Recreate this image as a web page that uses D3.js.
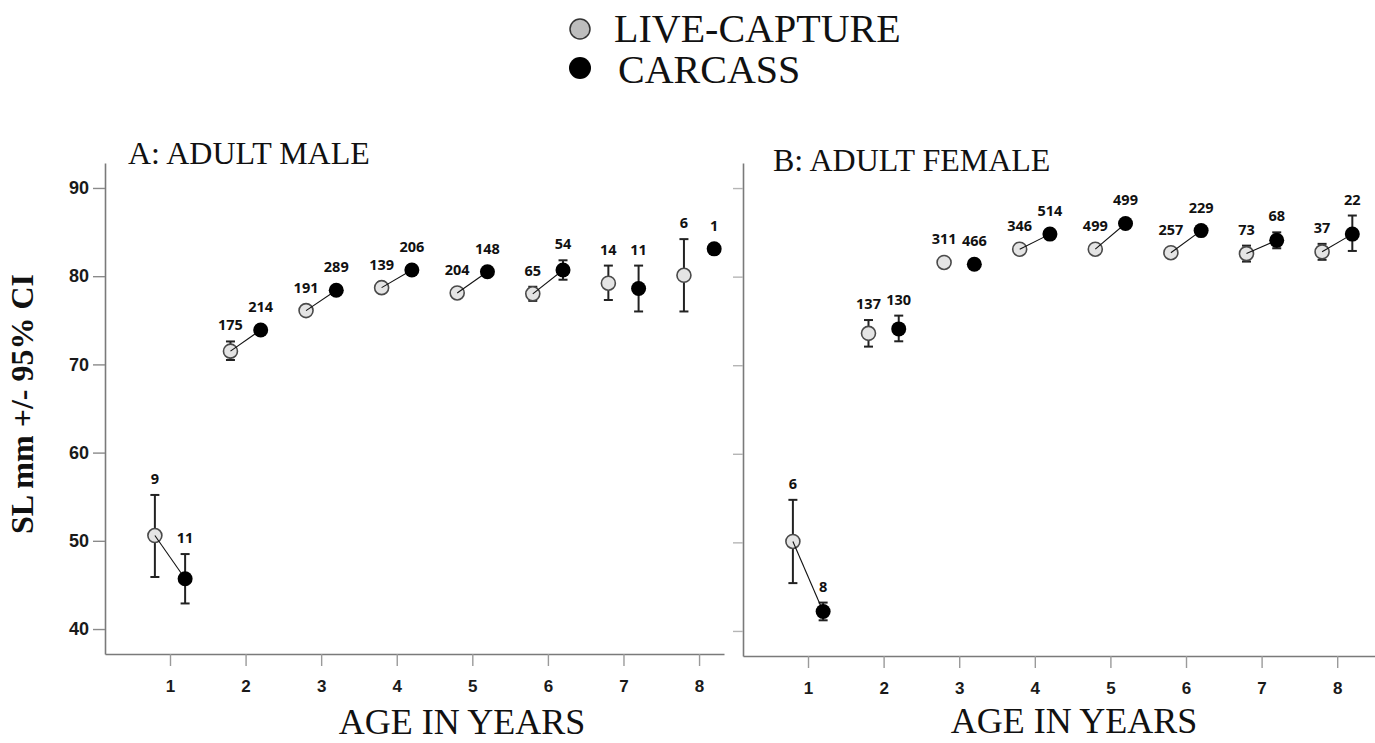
<!DOCTYPE html>
<html>
<head>
<meta charset="utf-8">
<script src="https://cdn.jsdelivr.net/npm/d3@7"></script>
<style>
  html, body { margin: 0; padding: 0; background: #fff; }
  svg { display: block; }
</style>
</head>
<body>
<svg id="chart" width="1375" height="743"></svg>
<script>
// ---------- DATA ----------
const ages = [1, 2, 3, 4, 5, 6, 7, 8];
const tickValuesY = [40, 50, 60, 70, 80, 90];

// Panel A: adult male
const maleLiveMean = [50.6, 71.5, 76.1, 78.7, 78.1, 78.0, 79.2, 80.1];
const maleLiveLo   = [45.9, 70.5, 75.6, 78.1, 77.6, 77.2, 77.3, 76.0];
const maleLiveHi   = [55.2, 72.6, 76.6, 79.3, 78.6, 78.8, 81.2, 84.2];
const maleLiveN    = [9, 175, 191, 139, 204, 65, 14, 6];
const maleCarcMean = [45.7, 73.9, 78.4, 80.7, 80.5, 80.7, 78.6, 83.1];
const maleCarcLo   = [42.9, 73.4, 78.0, 80.2, 80.0, 79.6, 76.0, null];
const maleCarcHi   = [48.5, 74.4, 78.8, 81.2, 81.0, 81.8, 81.2, null];
const maleCarcN    = [11, 214, 289, 206, 148, 54, 11, 1];
const maleLinked   = [true, true, true, true, true, true, false, false];

// Panel B: adult female
const femLiveMean = [50.1, 73.6, 81.6, 83.1, 83.1, 82.7, 82.6, 82.8];
const femLiveLo   = [45.4, 72.1, 81.3, 82.7, 82.7, 82.2, 81.7, 81.9];
const femLiveHi   = [54.8, 75.1, 81.9, 83.5, 83.5, 83.2, 83.5, 83.7];
const femLiveN    = [6, 137, 311, 346, 499, 257, 73, 37];
const femCarcMean = [42.2, 74.1, 81.4, 84.8, 86.0, 85.2, 84.1, 84.8];
const femCarcLo   = [41.2, 72.7, 81.0, 84.4, 85.6, 84.7, 83.2, 82.9];
const femCarcHi   = [43.2, 75.6, 81.8, 85.2, 86.4, 85.7, 85.0, 86.9];
const femCarcN    = [8, 130, 466, 514, 499, 229, 68, 22];
const femLinked   = [true, false, false, true, true, true, true, true];

const seriesNames = ["LIVE-CAPTURE", "CARCASS"];
const panelTitles = ["A: ADULT MALE", "B: ADULT FEMALE"];
const yTitle = "SL mm +/- 95% CI";
const xTitle = "AGE IN YEARS";

// ---------- STYLE ----------
const liveFill = "#e4e4e4", liveStroke = "#4a4a4a", carcFill = "#000";
const serif = "'Liberation Serif', 'Times New Roman', serif";
const sans = "'Liberation Sans', Arial, sans-serif";
const labelFont = "'Open Sans', 'Liberation Sans', sans-serif";
const R = 7;
const offset = 0.2;

const svg = d3.select("#chart");

// ---------- LEGEND ----------
const legend = svg.append("g");
legend.append("circle").attr("cx", 580).attr("cy", 29).attr("r", 10)
  .attr("fill", "#bdbdbd").attr("stroke", "#333").attr("stroke-width", 1.5);
legend.append("circle").attr("cx", 580).attr("cy", 68).attr("r", 11).attr("fill", "#000");
legend.append("text").attr("x", 614).attr("y", 42).text(seriesNames[0])
  .style("font-family", serif).style("font-size", "40px").attr("fill", "#111");
legend.append("text").attr("x", 618).attr("y", 83).text(seriesNames[1])
  .style("font-family", serif).style("font-size", "40px").attr("fill", "#111");

// ---------- Y TITLE ----------
svg.append("text")
  .attr("transform", "translate(33,404) rotate(-90)")
  .attr("text-anchor", "middle")
  .style("font-family", serif).style("font-size", "32px").style("font-weight", "bold")
  .attr("fill", "#111")
  .text(yTitle);

function buildPanel(cfg) {
  const x = d3.scaleLinear().domain(cfg.xDomain).range(cfg.xRange);
  const y = d3.scaleLinear().domain([37.17, 92.83]).range(cfg.yRange);
  const g = svg.append("g");

  // axes
  const yAxis = d3.axisLeft(y).tickValues(tickValuesY).tickSize(cfg.showYLabels ? 12 : 10)
    .tickPadding(4).tickSizeOuter(0)
    .tickFormat(cfg.showYLabels ? d3.format("d") : () => "");
  const ya = g.append("g").attr("transform", `translate(${cfg.xRange[0]},0)`).call(yAxis);
  ya.select(".domain").attr("stroke", "#7a7a7a").attr("stroke-width", 1.6);
  ya.selectAll(".tick line").attr("stroke", cfg.showYLabels ? "#8a8a8a" : "#b5b5b5").attr("stroke-width", 1.4);
  ya.selectAll(".tick text").style("font-family", sans).style("font-size", "18px")
    .style("font-weight", "bold").attr("fill", "#1a1a1a");

  const xAxis = d3.axisBottom(x).tickValues(ages).tickSize(12).tickPadding(14)
    .tickSizeOuter(0).tickFormat(d3.format("d"));
  const xa = g.append("g").attr("transform", `translate(0,${cfg.yRange[0]})`).call(xAxis);
  xa.select(".domain").attr("stroke", "#7a7a7a").attr("stroke-width", 1.6);
  xa.selectAll(".tick line").attr("stroke", "#9a9a9a").attr("stroke-width", 1.4);
  xa.selectAll(".tick text").style("font-family", sans).style("font-size", "17px")
    .style("font-weight", "bold").attr("fill", "#1a1a1a");

  // titles
  g.append("text").attr("x", cfg.titleX).attr("y", cfg.titleY).text(cfg.title)
    .style("font-family", serif).style("font-size", "32px").attr("fill", "#111");
  g.append("text").attr("x", cfg.xTitleX).attr("y", cfg.xTitleY).attr("text-anchor", "middle")
    .text(xTitle).style("font-family", serif).style("font-size", "36px").attr("fill", "#111");

  const live = ages.map((a, i) => ({ age: a - offset, v: cfg.liveMean[i], lo: cfg.liveLo[i], hi: cfg.liveHi[i], n: cfg.liveN[i], type: "live" }));
  const carc = ages.map((a, i) => ({ age: a + offset, v: cfg.carcMean[i], lo: cfg.carcLo[i], hi: cfg.carcHi[i], n: cfg.carcN[i], type: "carc" }));
  const all = live.concat(carc);

  // error bars
  all.filter(d => d.lo != null).forEach(d => {
    const cx = x(d.age);
    g.append("line").attr("x1", cx).attr("x2", cx).attr("y1", y(d.lo)).attr("y2", y(d.hi))
      .attr("stroke", "#222").attr("stroke-width", 2);
    [d.lo, d.hi].forEach(val => {
      g.append("line").attr("x1", cx - 4.5).attr("x2", cx + 4.5).attr("y1", y(val)).attr("y2", y(val))
        .attr("stroke", "#222").attr("stroke-width", 2);
    });
  });

  // live markers
  g.selectAll("circle.live").data(live).join("circle").attr("class", "live")
    .attr("cx", d => x(d.age)).attr("cy", d => y(d.v)).attr("r", R)
    .attr("fill", liveFill).attr("stroke", liveStroke).attr("stroke-width", 1.6);
  // connecting lines (drawn over the light live marker, under the carcass marker)
  ages.forEach((a, i) => {
    if (!cfg.linked[i]) return;
    g.append("line")
      .attr("x1", x(live[i].age)).attr("y1", y(live[i].v))
      .attr("x2", x(carc[i].age)).attr("y2", y(carc[i].v))
      .attr("stroke", "#111").attr("stroke-width", 1.1);
  });
  g.selectAll("circle.carc").data(carc).join("circle").attr("class", "carc")
    .attr("cx", d => x(d.age)).attr("cy", d => y(d.v)).attr("r", R + 0.5)
    .attr("fill", carcFill);

  // n labels
  g.selectAll("text.n").data(all).join("text").attr("class", "n")
    .attr("x", d => x(d.age))
    .attr("y", d => {
      const top = Math.min(d.hi != null ? y(d.hi) : Infinity, y(d.v) - R);
      return top - 11;
    })
    .attr("text-anchor", "middle")
    .style("font-family", labelFont).style("font-size", "14.5px").style("font-weight", "bold")
    .attr("fill", "#111")
    .text(d => d.n);
}

buildPanel({
  xDomain: [0.14, 8.33], xRange: [105, 724], yRange: [654, 163], showYLabels: true,
  title: panelTitles[0], titleX: 128, titleY: 164, xTitleX: 462, xTitleY: 734,
  liveMean: maleLiveMean, liveLo: maleLiveLo, liveHi: maleLiveHi, liveN: maleLiveN,
  carcMean: maleCarcMean, carcLo: maleCarcLo, carcHi: maleCarcHi, carcN: maleCarcN,
  linked: maleLinked
});
buildPanel({
  xDomain: [0.14, 8.5], xRange: [743, 1375], yRange: [656, 163], showYLabels: false,
  title: panelTitles[1], titleX: 773, titleY: 171, xTitleX: 1074, xTitleY: 733,
  liveMean: femLiveMean, liveLo: femLiveLo, liveHi: femLiveHi, liveN: femLiveN,
  carcMean: femCarcMean, carcLo: femCarcLo, carcHi: femCarcHi, carcN: femCarcN,
  linked: femLinked
});
</script>
</body>
</html>
